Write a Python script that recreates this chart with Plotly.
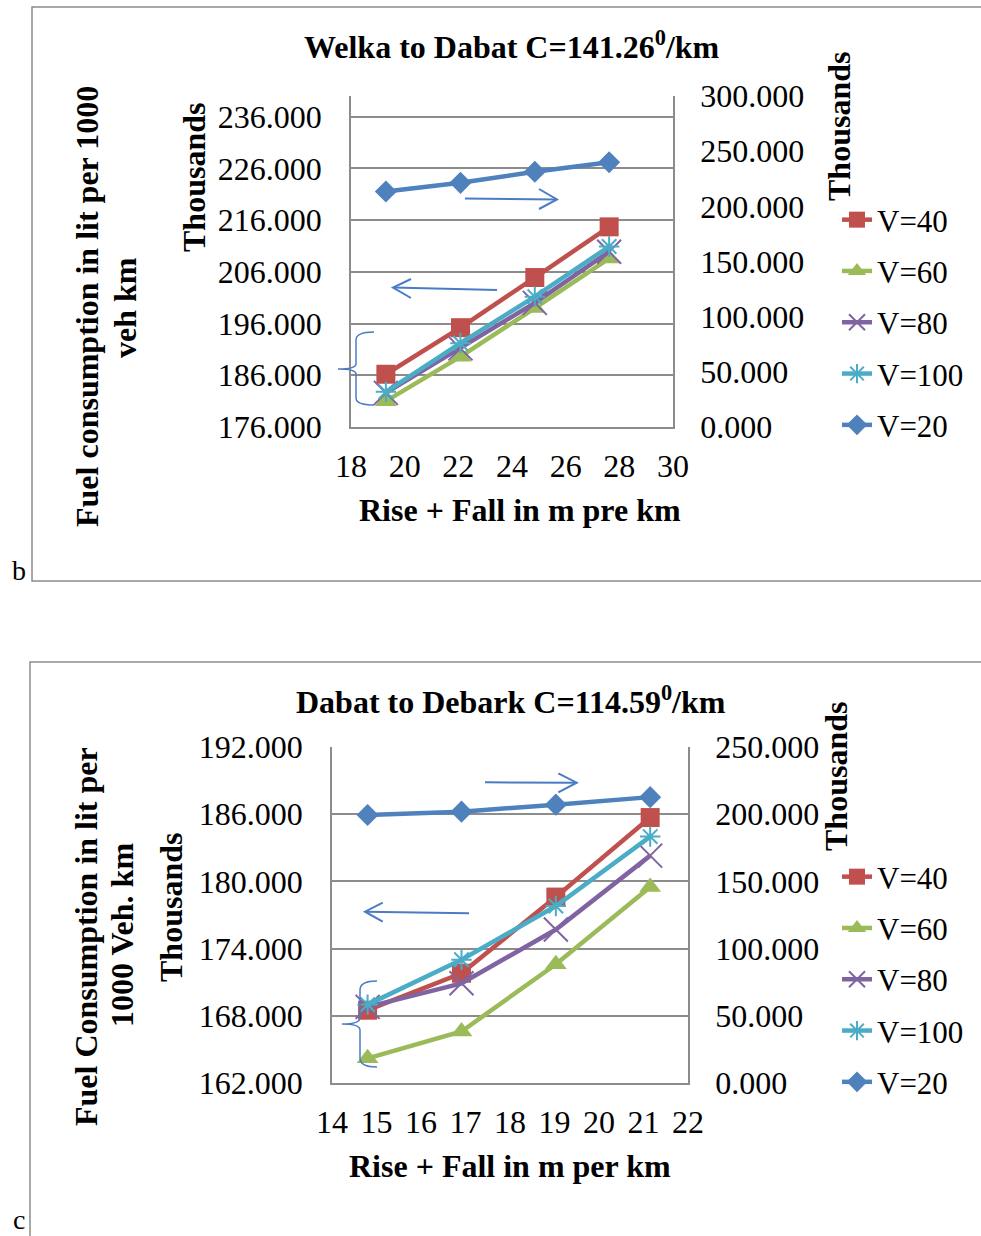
import plotly.graph_objects as go

# ---------------- data ----------------
series_names = ["V=40", "V=60", "V=80", "V=100", "V=20"]

# Chart b: Welka to Dabat
x_b = [19.3, 22.08, 24.85, 27.62]
b_v40 = [186.2, 195.2, 204.9, 214.7]
b_v60 = [181.0, 189.6, 199.0, 208.6]
b_v80 = [182.6, 191.2, 200.0, 209.9]
b_v100 = [182.8, 192.2, 201.2, 210.9]
b_v20 = [213.5, 221.3, 231.3, 240.0]   # right axis (thousands)

# Chart c: Dabat to Debark
x_c = [14.8, 16.91, 19.03, 21.15]
c_v40 = [168.5, 171.8, 178.6, 185.7]
c_v60 = [164.2, 166.6, 172.6, 179.5]
c_v80 = [168.8, 170.9, 175.7, 182.3]
c_v100 = [169.0, 173.0, 177.8, 184.0]
c_v20 = [199.4, 201.9, 207.1, 212.7]   # right axis (thousands)

# ---------------- styling ----------------
W, H = 981, 1236
FONT = "Liberation Serif"
FS = 32
LFS = 31
GRID = "#8c8c8c"
ARROW = "#4a7cc4"
colors = {"V=40": "#C0504D", "V=60": "#9BBB59", "V=80": "#8064A2",
          "V=100": "#4BACC6", "V=20": "#4F81BD"}
markers = {
    "V=40": dict(symbol="square", size=19),
    "V=60": dict(symbol="triangle-up", size=19),
    "V=80": dict(symbol="x-thin-open", size=24, line=dict(width=2)),
    "V=100": dict(symbol="asterisk-open", size=17, line=dict(width=2)),
    "V=20": dict(symbol="diamond", size=17),
}


def px(x):
    return x / W


def py(y):
    return 1 - y / H


def path(cmds):
    out = []
    for c in cmds:
        if isinstance(c, str):
            out.append(c)
        else:
            out.append(f"{px(c[0]):.5f},{py(c[1]):.5f}")
    return " ".join(out)


fig = go.Figure()


def add_series(x, ys, xa, ya, ya2, legend):
    for name, y in zip(series_names, ys):
        m = dict(markers[name])
        m["color"] = colors[name]
        if "line" in m:
            m["line"] = dict(m["line"], color=colors[name])
        fig.add_trace(go.Scatter(
            x=x, y=y, name=name, mode="lines+markers",
            line=dict(color=colors[name], width=4.5),
            marker=m, xaxis=xa, yaxis=(ya2 if name == "V=20" else ya),
            legend=legend, legendgroup=legend + name,
        ))


add_series(x_b, [b_v40, b_v60, b_v80, b_v100, b_v20], "x", "y", "y2", "legend")
add_series(x_c, [c_v40, c_v60, c_v80, c_v100, c_v20], "x2", "y3", "y4", "legend2")

tickfont = dict(family=FONT, size=FS, color="black")
axis_common = dict(showline=True, linecolor=GRID, linewidth=1.5, ticks="",
                   tickfont=tickfont, zeroline=False, automargin=False)

fig.update_layout(
    width=W, height=H,
    margin=dict(l=0, r=0, t=0, b=0, pad=0, autoexpand=False),
    paper_bgcolor="white", plot_bgcolor="white",
    font=dict(family=FONT, size=FS, color="black"),
    xaxis=dict(domain=[px(351), px(673)], range=[18, 30], dtick=2, tick0=18,
               showgrid=False, anchor="y", ticklabelstandoff=10, **axis_common),
    yaxis=dict(domain=[py(427), py(96)], range=[176, 240], dtick=10, tick0=176,
               tickformat=".3f", showgrid=True, gridcolor=GRID, gridwidth=1.5,
               anchor="x", ticklabelstandoff=21, **axis_common),
    yaxis2=dict(domain=[py(427), py(96)], range=[0, 300], dtick=50, tick0=0,
                tickformat=".3f", showgrid=False, overlaying="y", side="right",
                anchor="x", ticklabelstandoff=19, **axis_common),
    xaxis2=dict(domain=[px(332), px(688)], range=[14, 22], dtick=1, tick0=14,
                showgrid=False, anchor="y3", ticklabelstandoff=10, **axis_common),
    yaxis3=dict(domain=[py(1083), py(747)], range=[162, 192], dtick=6, tick0=162,
                tickformat=".3f", showgrid=True, gridcolor=GRID, gridwidth=1.5,
                anchor="x2", ticklabelstandoff=21, **axis_common),
    yaxis4=dict(domain=[py(1083), py(747)], range=[0, 250], dtick=50, tick0=0,
                tickformat=".3f", showgrid=False, overlaying="y3", side="right",
                anchor="x2", ticklabelstandoff=19, **axis_common),
    legend=dict(x=px(837), y=py(193), xanchor="left", yanchor="top",
                font=dict(family=FONT, size=LFS), bgcolor="rgba(0,0,0,0)",
                traceorder="grouped", tracegroupgap=8, itemsizing="trace"),
    legend2=dict(x=px(837), y=py(850), xanchor="left", yanchor="top",
                 font=dict(family=FONT, size=LFS), bgcolor="rgba(0,0,0,0)",
                 traceorder="grouped", tracegroupgap=8, itemsizing="trace"),
)

# ---------------- text annotations ----------------
def ann(text, x, y, bold=False, angle=0, size=FS):
    fig.add_annotation(
        text=f"<b>{text}</b>" if bold else text,
        x=px(x), y=py(y), xref="paper", yref="paper",
        xanchor="center", yanchor="middle", showarrow=False,
        textangle=angle, font=dict(family=FONT, size=size, color="black"),
    )


ann("Welka to Dabat C=141.26<sup>0</sup>/km", 512, 45, bold=True)
ann("Rise + Fall in m pre km", 520, 510, bold=True)
ann("Fuel consumption in lit per 1000", 87, 307, bold=True, angle=-90)
ann("veh km", 125, 307, bold=True, angle=-90)
ann("Thousands", 194, 178, bold=True, angle=-90)
ann("Thousands", 839, 127, bold=True, angle=-90)
ann("b", 19, 570, size=28)

ann("Dabat to Debark C=114.59<sup>0</sup>/km", 511, 700, bold=True)
ann("Rise + Fall in m per km", 510, 1166, bold=True)
ann("Fuel Consumption in lit per", 86, 937, bold=True, angle=-90)
ann("1000 Veh. km", 122, 935, bold=True, angle=-90)
ann("Thousands", 171, 908, bold=True, angle=-90)
ann("Thousands", 836, 777, bold=True, angle=-90)
ann("c", 19, 1219, size=28)

# ---------------- decorative shapes (frames, arrows, braces) ----------------
def add_path(cmds, color, width):
    fig.add_shape(type="path", path=path(cmds), xref="paper", yref="paper",
                  line=dict(color=color, width=width), fillcolor="rgba(0,0,0,0)")


# frames
add_path(["M", (985, 7), "L", (32, 7), "L", (32, 581), "L", (985, 581)], GRID, 1.5)
add_path(["M", (985, 662), "L", (30, 662), "L", (30, 1240)], GRID, 1.5)

# chart b arrows + brace
add_path(["M", (465, 198.5), "L", (557, 199.5)], ARROW, 2)
add_path(["M", (539, 189), "L", (557, 199.5), "L", (539, 209)], ARROW, 2)
add_path(["M", (497, 290), "L", (393, 287.5)], ARROW, 2)
add_path(["M", (411, 279), "L", (393, 287.5), "L", (411, 298)], ARROW, 2)
add_path(["M", (374, 332), "Q", (356, 332), (356, 340), "L", (356, 364),
          "Q", (356, 369), (338, 369), "Q", (356, 369), (356, 374),
          "L", (356, 398), "Q", (356, 405), (374, 405)], ARROW, 1.5)

# chart c arrows + brace
add_path(["M", (485, 782.3), "L", (576.7, 782.7)], ARROW, 2)
add_path(["M", (558.3, 773.3), "L", (576.7, 782.7), "L", (558.3, 792.3)], ARROW, 2)
add_path(["M", (469, 913.3), "L", (365, 911.7)], ARROW, 2)
add_path(["M", (382.7, 902.7), "L", (365, 911.7), "L", (382.7, 921.7)], ARROW, 2)
add_path(["M", (377, 981), "Q", (360, 981), (360, 990), "L", (360, 1018),
          "Q", (360, 1024), (342, 1024), "Q", (360, 1024), (360, 1030),
          "L", (360, 1058), "Q", (360, 1067), (377, 1067)], ARROW, 1.5)

fig.write_html("out.html")
